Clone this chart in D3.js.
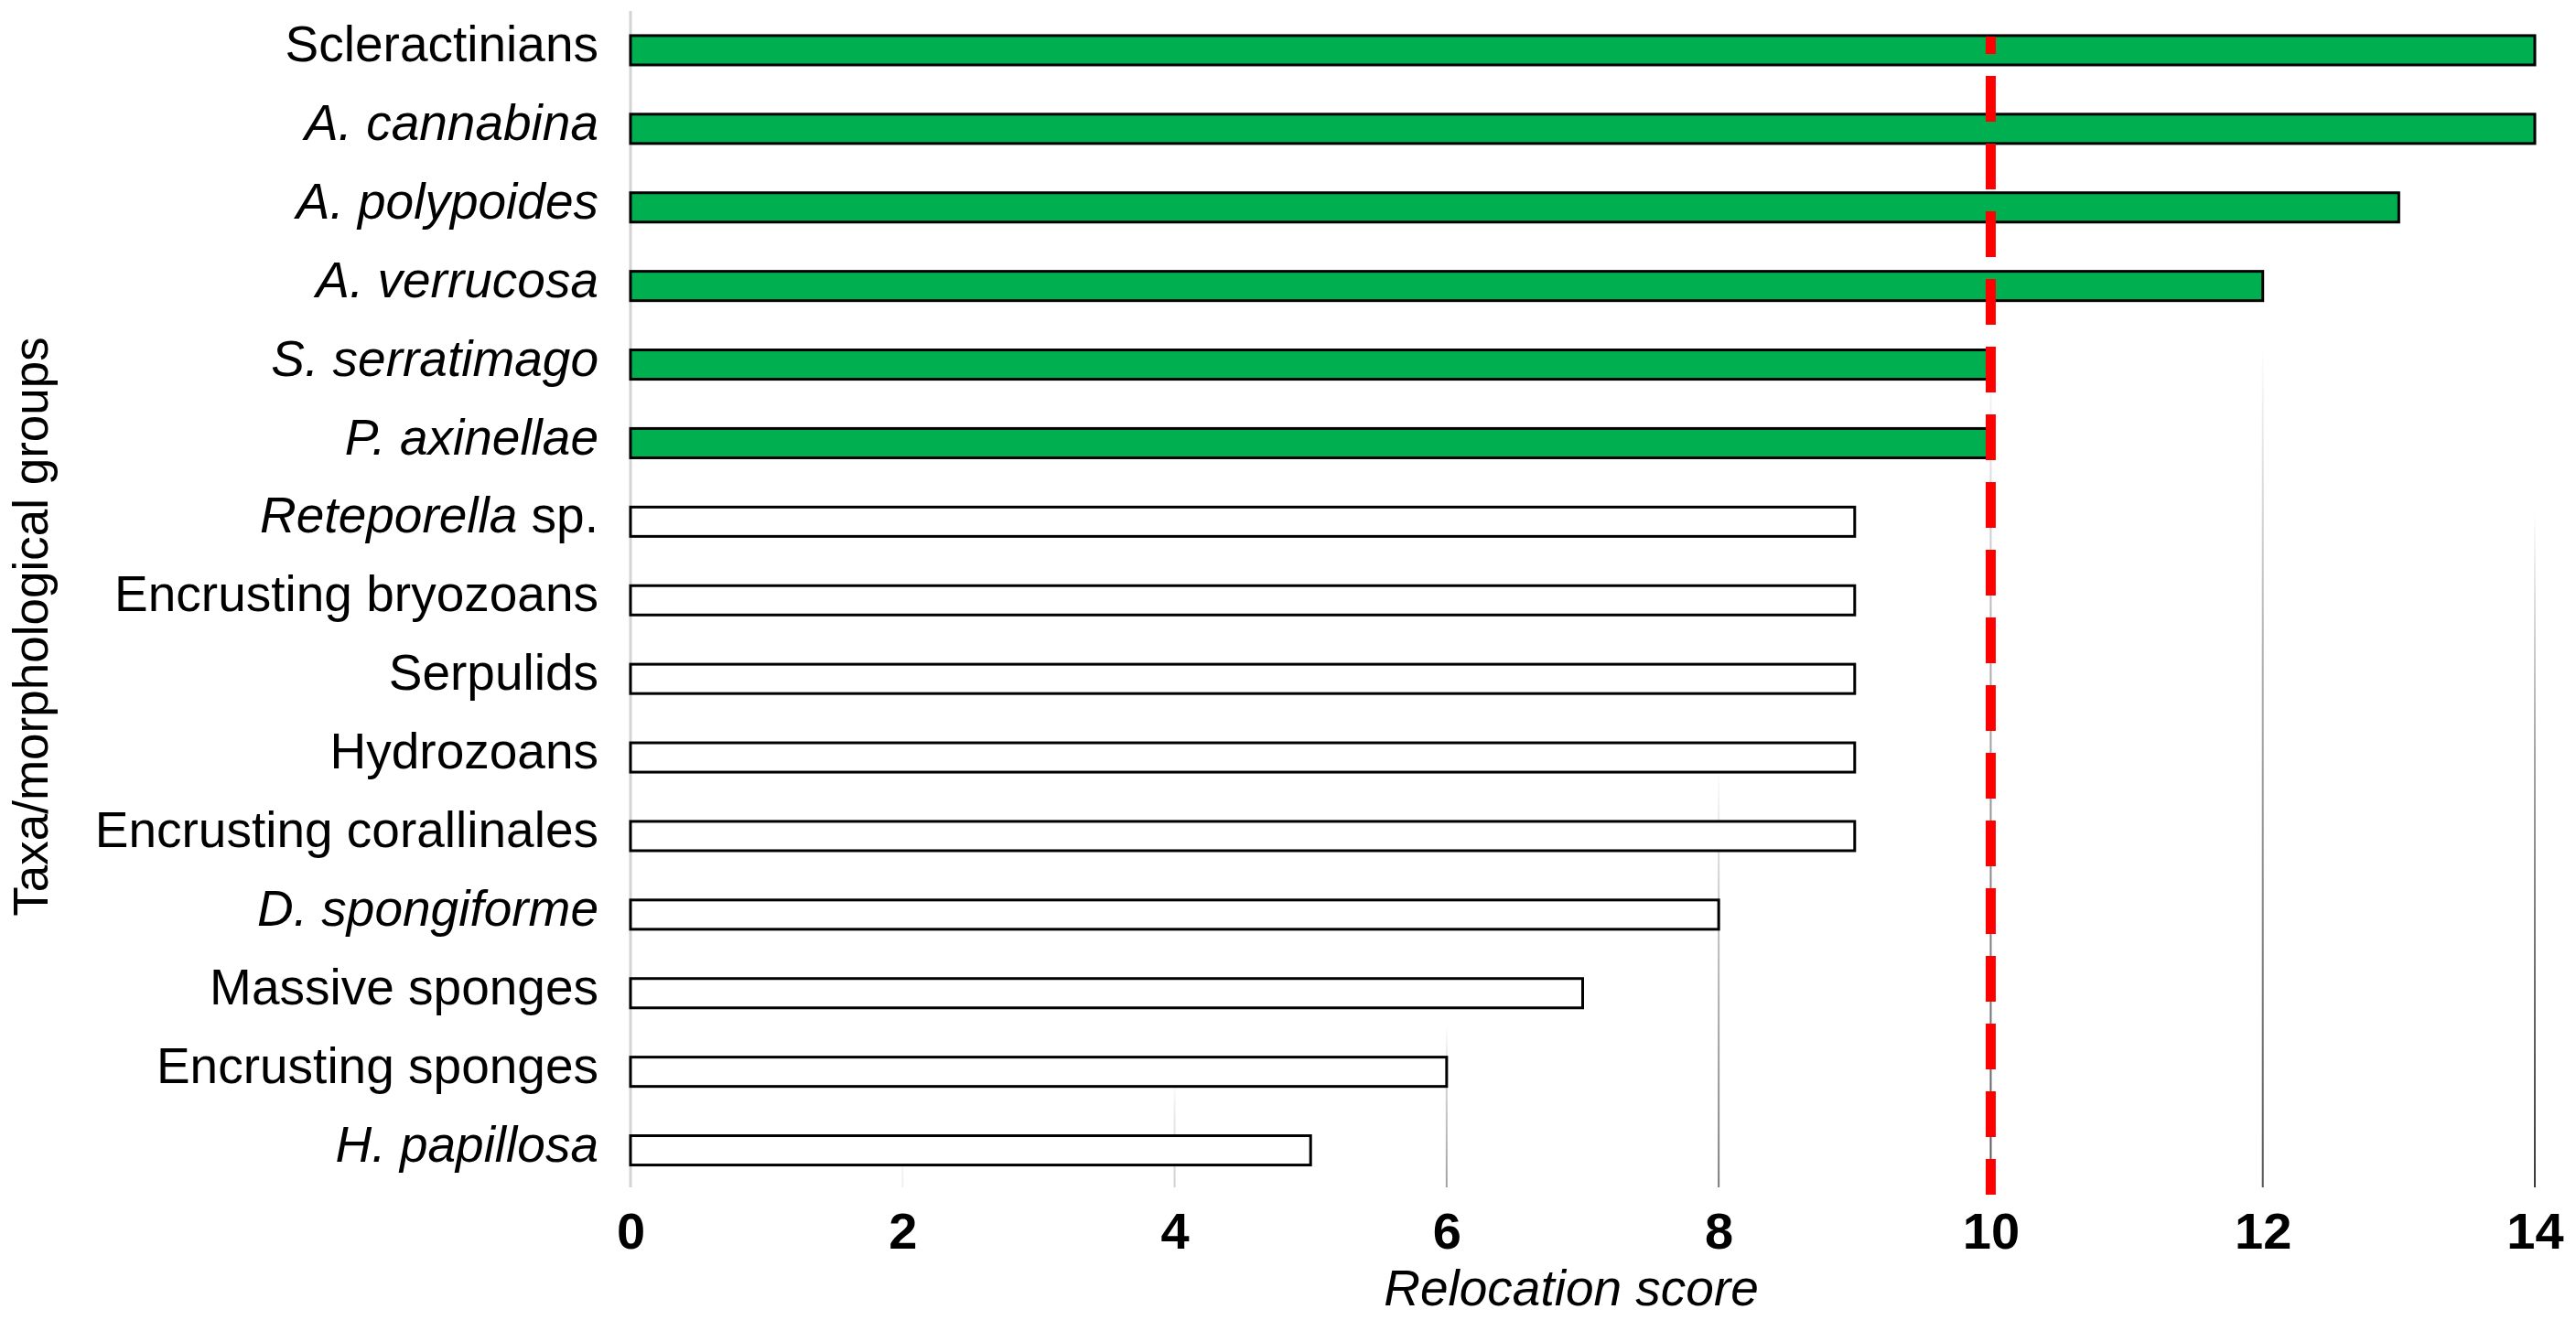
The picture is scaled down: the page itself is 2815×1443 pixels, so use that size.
<!DOCTYPE html>
<html>
<head>
<meta charset="utf-8">
<script src="https://cdn.jsdelivr.net/npm/d3@7"></script>
<style>
  html, body { margin: 0; padding: 0; background: #fff; }
  svg { display: block; }
  text { font-family: "Liberation Sans", Arial, Helvetica, sans-serif; fill: #000; }
</style>
</head>
<body>
<svg id="chart" width="2815" height="1443"></svg>
<script>
// ---- data ----
const categories = [
  "Scleractinians", "A. cannabina", "A. polypoides", "A. verrucosa",
  "S. serratimago", "P. axinellae", "Reteporella sp.", "Encrusting bryozoans",
  "Serpulids", "Hydrozoans", "Encrusting corallinales", "D. spongiforme",
  "Massive sponges", "Encrusting sponges", "H. papillosa"
];
// part of each label set in italics (empty = upright)
const italicParts = [
  "", "A. cannabina", "A. polypoides", "A. verrucosa",
  "S. serratimago", "P. axinellae", "Reteporella", "",
  "", "", "", "D. spongiforme",
  "", "", "H. papillosa"
];
const scores = [14, 14, 13, 12, 10, 10, 9, 9, 9, 9, 9, 8, 7, 6, 5];
const xTicks = [0, 2, 4, 6, 8, 10, 12, 14];
const threshold = 10;
const xTitle = "Relocation score";
const yTitle = "Taxa/morphological groups";

// ---- layout ----
const svg = d3.select("#chart");
const plotLeft = 689, plotRight = 2770, plotTop = 12, plotBottom = 1298;

const x = d3.scaleLinear().domain([0, 14]).range([plotLeft, plotRight]);
const y = d3.scaleBand().domain(categories).range([plotTop, 1300.5])
  .paddingInner(0.627).paddingOuter(0.3135);

// gridline fade gradients (grid fades out towards the top)
const gridStyle = {
  2: { start: 1250, color: "#eeeeee" },
  4: { start: 1180, color: "#cfcfcf" },
  6: { start: 1120, color: "#a0a0a0" },
  8: { start: 840, color: "#7a7a7a" },
  10: { start: 380, color: "#555555" },
  12: { start: 380, color: "#505050" },
  14: { start: 560, color: "#3a3a3a" }
};
const defs = svg.append("defs");
xTicks.filter(t => t > 0).forEach(t => {
  const g = defs.append("linearGradient")
    .attr("id", "grid" + t)
    .attr("gradientUnits", "userSpaceOnUse")
    .attr("x1", 0).attr("x2", 0)
    .attr("y1", gridStyle[t].start).attr("y2", plotBottom);
  g.append("stop").attr("offset", 0).attr("stop-color", gridStyle[t].color).attr("stop-opacity", 0);
  g.append("stop").attr("offset", 0.35).attr("stop-color", gridStyle[t].color).attr("stop-opacity", 0.45);
  g.append("stop").attr("offset", 1).attr("stop-color", gridStyle[t].color).attr("stop-opacity", 1);
});

// gridlines
svg.append("g").selectAll("rect.grid")
  .data(xTicks.filter(t => t > 0))
  .join("rect")
  .attr("class", "grid")
  .attr("x", d => x(d) - 1)
  .attr("width", 2)
  .attr("y", plotTop)
  .attr("height", plotBottom - plotTop)
  .attr("fill", d => "url(#grid" + d + ")");

// zero axis line
svg.append("line")
  .attr("x1", x(0)).attr("x2", x(0))
  .attr("y1", plotTop).attr("y2", plotBottom)
  .attr("stroke", "#d4d4d4").attr("stroke-width", 3);

// bars
svg.append("g").selectAll("rect.bar")
  .data(categories.map((c, i) => ({ c, v: scores[i] })))
  .join("rect")
  .attr("class", "bar")
  .attr("x", x(0))
  .attr("y", d => y(d.c))
  .attr("width", d => x(d.v) - x(0))
  .attr("height", y.bandwidth())
  .attr("fill", d => d.v >= threshold ? "#00b050" : "#ffffff")
  .attr("stroke", "#000")
  .attr("stroke-width", 3);

// threshold dashed line
svg.append("line")
  .attr("x1", x(threshold)).attr("x2", x(threshold))
  .attr("y1", 40).attr("y2", 1306)
  .attr("stroke", "#ff0000")
  .attr("stroke-width", 11)
  .attr("stroke-dasharray", "50,24")
  .attr("stroke-dashoffset", 31);

// x axis
const xAxis = svg.append("g")
  .attr("transform", `translate(0,${plotBottom})`)
  .call(d3.axisBottom(x).tickValues(xTicks).tickSize(0).tickPadding(27).tickFormat(d3.format("d")));
xAxis.select(".domain").remove();
xAxis.selectAll("text")
  .style("font-size", "56px")
  .style("font-weight", "bold")
  .style("font-family", "'Liberation Sans', Arial, sans-serif")
  .attr("fill", "#000");

// y axis (category labels)
const yAxis = svg.append("g")
  .attr("transform", `translate(${plotLeft},0)`)
  .call(d3.axisLeft(y).tickSize(0).tickPadding(35));
yAxis.select(".domain").remove();
yAxis.selectAll("text")
  .style("font-size", "55px")
  .style("font-family", "'Liberation Sans', Arial, sans-serif")
  .attr("fill", "#000")
  .attr("dy", "0.22em")
  .each(function(d) {
    const i = categories.indexOf(d);
    const it = italicParts[i];
    const t = d3.select(this);
    t.text(null);
    if (it && d.startsWith(it)) {
      t.append("tspan").style("font-style", "italic").text(it);
      const rest = d.slice(it.length);
      if (rest) t.append("tspan").text(rest);
    } else {
      t.append("tspan").text(d);
    }
  });

// axis titles
svg.append("text")
  .attr("x", 1717).attr("y", 1427)
  .attr("text-anchor", "middle")
  .style("font-size", "55px")
  .style("font-style", "italic")
  .text(xTitle);

svg.append("text")
  .attr("transform", "translate(52,685) rotate(-90)")
  .attr("text-anchor", "middle")
  .style("font-size", "53px")
  .text(yTitle);
</script>
</body>
</html>
